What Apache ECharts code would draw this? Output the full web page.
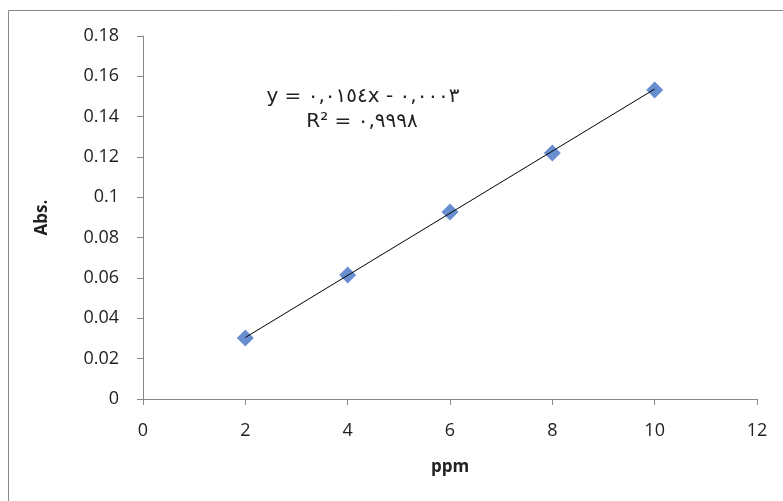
<!DOCTYPE html>
<html>
<head>
<meta charset="utf-8">
<script src="https://cdn.jsdelivr.net/npm/echarts@6/dist/echarts.min.js"></script>
<style>html,body{margin:0;padding:0;background:#fff}#c{width:783px;height:501px}</style>
</head>
<body>
<div id="c"></div>
<script>
var xValues = [2, 4, 6, 8, 10];
var absValues = [0.0302, 0.0615, 0.0927, 0.1220, 0.1532];
var trendX = [2, 10];
var trendY = [0.0305, 0.1537];
var eqLine1 = 'y = ٠,٠١٥٤x - ٠,٠٠٠٣';
var eqLine2 = 'R² = ٠,٩٩٩٨';
var xName = 'ppm';
var yName = 'Abs.';

var chart = echarts.init(document.getElementById('c'), null, {renderer: 'canvas'});
var fam = '"Open Sans", "DejaVu Sans", sans-serif';
var eqFam = '"DejaVu Sans", sans-serif';
chart.setOption({
  animation: false,
  backgroundColor: '#fff',
  grid: {left: 143, right: 26, top: 36, bottom: 102},
  xAxis: {
    type: 'value', min: 0, max: 12, interval: 2,
    name: xName, nameLocation: 'middle', nameGap: 60,
    nameTextStyle: {fontFamily: fam, fontWeight: 'bold', fontSize: 17, color: '#222'},
    axisLine: {lineStyle: {color: '#888', width: 1}},
    axisTick: {show: true, inside: false, length: 6, lineStyle: {color: '#888'}},
    axisLabel: {fontFamily: fam, fontSize: 18, color: '#222', margin: 23},
    splitLine: {show: false}
  },
  yAxis: {
    type: 'value', min: 0, max: 0.18, interval: 0.02,
    name: yName, nameLocation: 'middle', nameGap: 92, nameRotate: 90,
    nameTextStyle: {fontFamily: fam, fontWeight: 'bold', fontSize: 17, color: '#222'},
    axisLine: {show: true, lineStyle: {color: '#888', width: 1}},
    axisTick: {show: true, inside: false, length: 6, lineStyle: {color: '#888'}},
    axisLabel: {fontFamily: fam, fontSize: 18, color: '#222', margin: 24},
    splitLine: {show: false}
  },
  graphic: [
    {type: 'line', shape: {x1: 8.5, y1: 10.5, x2: 783, y2: 10.5}, style: {stroke: '#888', lineWidth: 1}},
    {type: 'line', shape: {x1: 8.5, y1: 10.5, x2: 8.5, y2: 501}, style: {stroke: '#888', lineWidth: 1}},
    {type: 'text', x: 363, y: 97, style: {text: eqLine1, font: '20px ' + eqFam, fill: '#222', align: 'center', verticalAlign: 'middle'}},
    {type: 'text', x: 362, y: 122, style: {text: eqLine2, font: '20px ' + eqFam, fill: '#222', align: 'center', verticalAlign: 'middle'}}
  ],
  series: [
    {
      type: 'line', data: trendX.map(function (x, i) { return [x, trendY[i]]; }),
      showSymbol: false, lineStyle: {color: '#000', width: 1}, silent: true, z: 3
    },
    {
      type: 'scatter', data: xValues.map(function (x, i) { return [x, absValues[i]]; }),
      symbol: 'diamond', symbolSize: 17,
      itemStyle: {color: '#4472c4'}, z: 2
    }
  ]
});
</script>
</body>
</html>
